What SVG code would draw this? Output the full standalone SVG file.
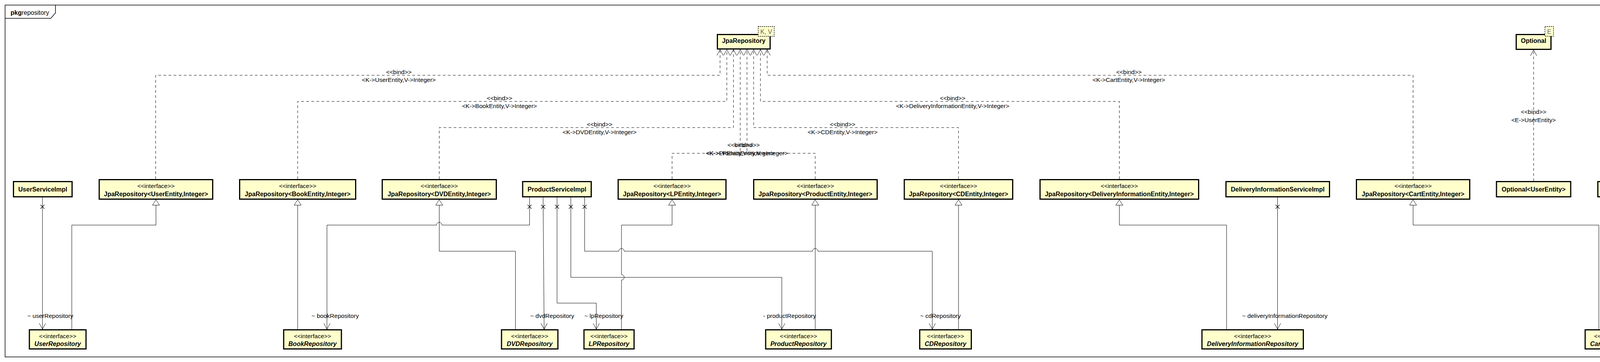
<svg xmlns="http://www.w3.org/2000/svg" width="4277" height="928" viewBox="0 0 4277 928">
<style>
.bg{fill:#fff}
.frame{fill:none;stroke:#000;stroke-width:1.5}
.box{fill:#FFFFCC;stroke:#000;stroke-width:3}
.param{fill:#FFFFCC;stroke:#000;stroke-width:1.3;stroke-dasharray:3,2}
.t{font-family:"Liberation Sans",Arial,sans-serif;font-size:15.5px;fill:#000}
.b{font-weight:bold;font-size:16px}
.i{font-style:italic}
.m{text-anchor:middle}
.pt{fill:#666;font-size:16px}
.dep{fill:none;stroke:#000;stroke-width:1;stroke-dasharray:7,6;marker-end:url(#open)}
.gen{fill:none;stroke:#000;stroke-width:1;marker-end:url(#tri)}
.asc{fill:none;stroke:#000;stroke-width:1;marker-end:url(#open)}
.x{fill:none;stroke:#000;stroke-width:1.2}
</style>
<defs>
<marker id="open" markerUnits="userSpaceOnUse" markerWidth="20" markerHeight="20" viewBox="-17 -10 19 20" refX="0" refY="0" orient="auto" overflow="visible"><path d="M-15,-8 L0,0 L-15,8" fill="none" stroke="#000" stroke-width="1"/></marker>
<marker id="tri" markerUnits="userSpaceOnUse" markerWidth="20" markerHeight="22" viewBox="-16 -11 18 22" refX="0" refY="0" orient="auto" overflow="visible"><path d="M-14,-9 L0,0 L-14,9 Z" fill="#fff" stroke="#000" stroke-width="1"/></marker>
<path id="xm" class="x" d="M-5,-5 L5,5 M5,-5 L-5,5"/>
</defs>
<rect class="bg" x="0" y="0" width="4277" height="928"/>
<g id="package">
<rect class="frame" x="13" y="13" width="4253" height="902"/>
<path class="frame" d="M13,47 H130 L142,33 V13"/>
<text class="t" x="27" y="38" style="font-size:16px"><tspan font-weight="bold">pkg</tspan>repository</text>
</g>
<g id="connectors">
<path class="dep" d="M398.5,459 V193 H1843.3 V127"/>
<path class="dep" d="M762,459 V260 H1860.7 V127"/>
<path class="dep" d="M1124.5,459 V327 H1877.7 V127"/>
<path class="dep" d="M1720.5,459 V393 H1895 V127"/>
<path class="dep" d="M2087,459 V393 H1912.3 V127"/>
<path class="dep" d="M2453.8,459 V327 H1929.3 V127"/>
<path class="dep" d="M2865.5,459 V260 H1946.7 V127"/>
<path class="dep" d="M3617.5,459 V193 H1964 V127"/>
<path class="dep" d="M3926,464 V128"/>
<path class="gen" d="M183.8,844 V577 H399.25 V512"/>
<path class="gen" d="M762,844 V512"/>
<path class="gen" d="M1319.6,844 V644 H1124.5 V512"/>
<path class="gen" d="M1591,844 V718 A7,7 0 0,0 1591,704 V577 H1720.5 V512"/>
<path class="gen" d="M2087,844 V512"/>
<path class="gen" d="M2453.8,844 V512"/>
<path class="gen" d="M3140,844 V577 H2865.5 V512"/>
<path class="gen" d="M4093,844 V577 H3617.5 V512"/>
<path class="asc" d="M108.7,506 V844"/>
<path class="asc" d="M1355.7,506 V577 H1131.5 A7,7 0 0,0 1117.5,577 H837 V844"/>
<path class="asc" d="M1390.3,506 L1393,844"/>
<path class="asc" d="M1426,506 V777 H1526.5 V844"/>
<path class="asc" d="M1461.3,506 V711 H2001.4 V844"/>
<path class="asc" d="M1496.7,506 V644 H1584 A7,7 0 0,1 1598,644 H2080 A7,7 0 0,1 2094,644 H2386.6 V844"/>
<path class="asc" d="M3270.5,506 V844"/>
<path class="asc" d="M4164,506 V844"/>
<use href="#xm" x="108.7" y="530"/>
<use href="#xm" x="1355.7" y="530"/>
<use href="#xm" x="1390.5" y="530"/>
<use href="#xm" x="1426" y="530"/>
<use href="#xm" x="1461.3" y="530"/>
<use href="#xm" x="1496.7" y="530"/>
<use href="#xm" x="3270.5" y="530"/>
<use href="#xm" x="4164" y="530"/>
<g class="t m">
<text x="1021" y="189.5">&lt;&lt;bind&gt;&gt;</text>
<text x="1021" y="210">&lt;K-&gt;UserEntity,V-&gt;Integer&gt;</text>
<text x="1278.7" y="256.5">&lt;&lt;bind&gt;&gt;</text>
<text x="1278.7" y="277">&lt;K-&gt;BookEntity,V-&gt;Integer&gt;</text>
<text x="1535" y="323.5">&lt;&lt;bind&gt;&gt;</text>
<text x="1535" y="344">&lt;K-&gt;DVDEntity,V-&gt;Integer&gt;</text>
<text x="1895" y="377">&lt;&lt;bind&gt;&gt;</text>
<text x="1895" y="398">&lt;K-&gt;LPEntity,V-&gt;Integer&gt;</text>
<text x="1912.3" y="377">&lt;&lt;bind&gt;&gt;</text>
<text x="1912.3" y="398">&lt;K-&gt;ProductEntity,V-&gt;Integer&gt;</text>
<text x="2157" y="323.5">&lt;&lt;bind&gt;&gt;</text>
<text x="2157" y="344">&lt;K-&gt;CDEntity,V-&gt;Integer&gt;</text>
<text x="2438.7" y="256.5">&lt;&lt;bind&gt;&gt;</text>
<text x="2438.7" y="277">&lt;K-&gt;DeliveryInformationEntity,V-&gt;Integer&gt;</text>
<text x="2890" y="189.5">&lt;&lt;bind&gt;&gt;</text>
<text x="2890" y="210">&lt;K-&gt;CartEntity,V-&gt;Integer&gt;</text>
<text x="3926" y="292">&lt;&lt;bind&gt;&gt;</text>
<text x="3926" y="313">&lt;E-&gt;UserEntity&gt;</text>
</g>
<g class="t">
<text x="70" y="815">~ userRepository</text>
<text x="797.6" y="815">~ bookRepository</text>
<text x="1357.5" y="815">~ dvdRepository</text>
<text x="1496" y="815">~ lpRepository</text>
<text x="1953.7" y="815">- productRepository</text>
<text x="2355.7" y="815">~ cdRepository</text>
<text x="3180" y="815">~ deliveryInformationRepository</text>
<text x="4129.6" y="815">~ cartRepository</text>
</g>
</g>
<g id="JpaRepository">
<rect class="box" x="1836.5" y="88.5" width="135" height="37"/>
<text class="t b m" x="1904" y="110">JpaRepository</text>
<rect class="param" x="1941" y="68" width="41" height="25"/>
<text class="t pt m" x="1961.5" y="87">K, V</text>
</g>
<g id="Optional">
<rect class="box" x="3881.5" y="88.5" width="89" height="38"/>
<text class="t b m" x="3926" y="110">Optional</text>
<rect class="param" x="3955" y="68" width="22" height="25"/>
<text class="t pt m" x="3966" y="87">E</text>
</g>
<g id="UserServiceImpl"><rect class="box" x="34.5" y="465.5" width="150" height="39"/><text class="t b m" x="109.5" y="490.5">UserServiceImpl</text></g>
<g id="ProductServiceImpl"><rect class="box" x="1338" y="465.5" width="175.5" height="39"/><text class="t b m" x="1425.75" y="490.5">ProductServiceImpl</text></g>
<g id="DeliveryInformationServiceImpl"><rect class="box" x="3138.5" y="465.5" width="265" height="39"/><text class="t b m" x="3271" y="490.5">DeliveryInformationServiceImpl</text></g>
<g id="OptionalUserEntity"><rect class="box" x="3831" y="465.5" width="190" height="39"/><text class="t b m" x="3926" y="490.5">Optional&lt;UserEntity&gt;</text></g>
<g id="CartServiceImpl"><rect class="box" x="4090.5" y="465.5" width="146.5" height="39"/><text class="t b m" x="4163.75" y="490.5">CartServiceImpl</text></g>
<g id="JpaUser"><rect class="box" x="254" y="460.5" width="290.5" height="50"/><text class="t m" x="399.25" y="482">&lt;&lt;interface&gt;&gt;</text><text class="t b m" x="399.25" y="502.5">JpaRepository&lt;UserEntity,Integer&gt;</text></g>
<g id="JpaBook"><rect class="box" x="613.5" y="460.5" width="297" height="50"/><text class="t m" x="762" y="482">&lt;&lt;interface&gt;&gt;</text><text class="t b m" x="762" y="502.5">JpaRepository&lt;BookEntity,Integer&gt;</text></g>
<g id="JpaDVD"><rect class="box" x="978.5" y="460.5" width="292" height="50"/><text class="t m" x="1124.5" y="482">&lt;&lt;interface&gt;&gt;</text><text class="t b m" x="1124.5" y="502.5">JpaRepository&lt;DVDEntity,Integer&gt;</text></g>
<g id="JpaLP"><rect class="box" x="1582.5" y="460.5" width="276" height="50"/><text class="t m" x="1720.5" y="482">&lt;&lt;interface&gt;&gt;</text><text class="t b m" x="1720.5" y="502.5">JpaRepository&lt;LPEntity,Integer&gt;</text></g>
<g id="JpaProduct"><rect class="box" x="1929.5" y="460.5" width="316" height="50"/><text class="t m" x="2087.5" y="482">&lt;&lt;interface&gt;&gt;</text><text class="t b m" x="2087.5" y="502.5">JpaRepository&lt;ProductEntity,Integer&gt;</text></g>
<g id="JpaCD"><rect class="box" x="2315" y="460.5" width="277.5" height="50"/><text class="t m" x="2453.8" y="482">&lt;&lt;interface&gt;&gt;</text><text class="t b m" x="2453.8" y="502.5">JpaRepository&lt;CDEntity,Integer&gt;</text></g>
<g id="JpaDelivery"><rect class="box" x="2662.5" y="460.5" width="406" height="50"/><text class="t m" x="2865.5" y="482">&lt;&lt;interface&gt;&gt;</text><text class="t b m" x="2865.5" y="502.5">JpaRepository&lt;DeliveryInformationEntity,Integer&gt;</text></g>
<g id="JpaCart"><rect class="box" x="3472.5" y="460.5" width="290" height="50"/><text class="t m" x="3617.5" y="482">&lt;&lt;interface&gt;&gt;</text><text class="t b m" x="3617.5" y="502.5">JpaRepository&lt;CartEntity,Integer&gt;</text></g>
<g id="UserRepository"><rect class="box" x="75.2" y="845.5" width="145" height="49"/><text class="t m" x="147.7" y="867">&lt;&lt;interface&gt;&gt;</text><text class="t b i m" x="147.7" y="887">UserRepository</text></g>
<g id="BookRepository"><rect class="box" x="726.2" y="845.5" width="147.8" height="49"/><text class="t m" x="800.1" y="867">&lt;&lt;interface&gt;&gt;</text><text class="t b i m" x="800.1" y="887">BookRepository</text></g>
<g id="DVDRepository"><rect class="box" x="1283.9" y="845.5" width="144.3" height="49"/><text class="t m" x="1356" y="867">&lt;&lt;interface&gt;&gt;</text><text class="t b i m" x="1356" y="887">DVDRepository</text></g>
<g id="LPRepository"><rect class="box" x="1495" y="845.5" width="128.2" height="49"/><text class="t m" x="1559.1" y="867">&lt;&lt;interface&gt;&gt;</text><text class="t b i m" x="1559.1" y="887">LPRepository</text></g>
<g id="ProductRepository"><rect class="box" x="1960.1" y="845.5" width="168.2" height="49"/><text class="t m" x="2044.2" y="867">&lt;&lt;interface&gt;&gt;</text><text class="t b i m" x="2044.2" y="887">ProductRepository</text></g>
<g id="CDRepository"><rect class="box" x="2354.5" y="845.5" width="132" height="49"/><text class="t m" x="2420.5" y="867">&lt;&lt;interface&gt;&gt;</text><text class="t b i m" x="2420.5" y="887">CDRepository</text></g>
<g id="DeliveryInformationRepository"><rect class="box" x="3077" y="845.5" width="259.5" height="49"/><text class="t m" x="3206.75" y="867">&lt;&lt;interface&gt;&gt;</text><text class="t b i m" x="3206.75" y="887">DeliveryInformationRepository</text></g>
<g id="CartRepository"><rect class="box" x="4058" y="845.5" width="141.2" height="49"/><text class="t m" x="4128.6" y="867">&lt;&lt;interface&gt;&gt;</text><text class="t b i m" x="4128.6" y="887">CartRepository</text></g>
</svg>
